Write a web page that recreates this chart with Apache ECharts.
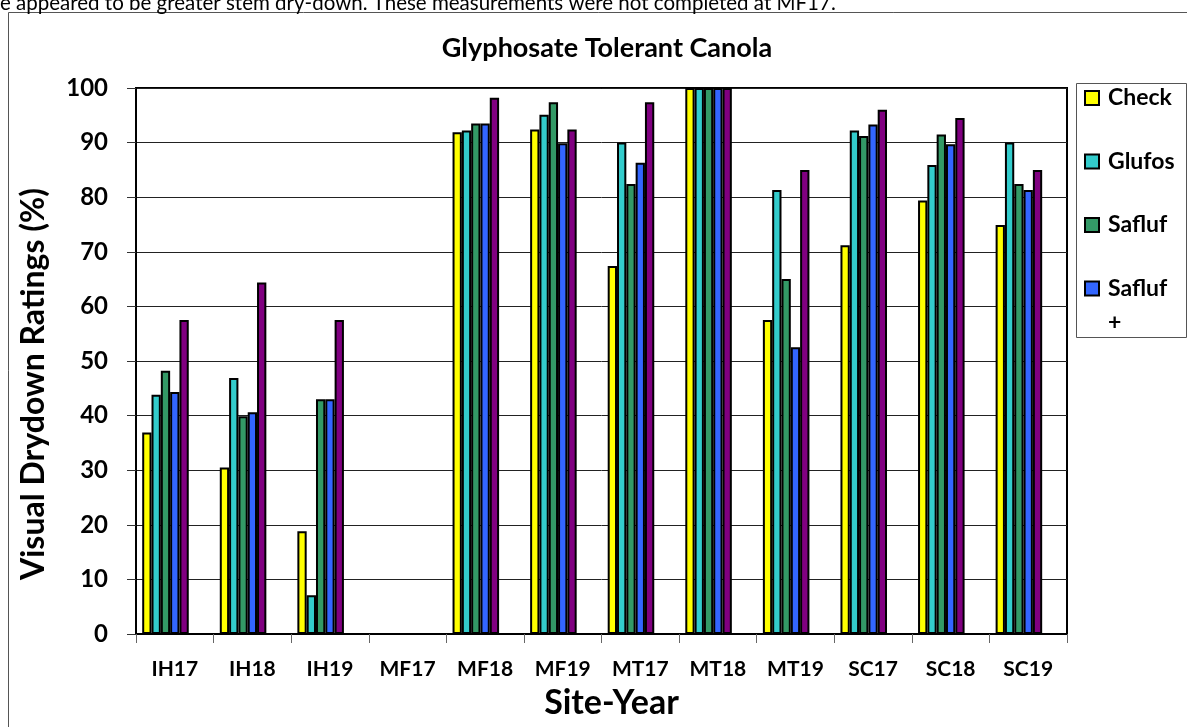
<!DOCTYPE html>
<html>
<head>
<meta charset="utf-8">
<script src="https://cdn.jsdelivr.net/npm/echarts@6/dist/echarts.min.js"></script>
<style>
  html, body { margin: 0; padding: 0; background: #fff; }
  #chart { width: 1187px; height: 727px; }
</style>
</head>
<body>
<div id="chart"></div>
<script>
const categories = ['IH17', 'IH18', 'IH19', 'MF17', 'MF18', 'MF19', 'MT17', 'MT18', 'MT19', 'SC17', 'SC18', 'SC19'];
const check  = [36.9, 30.5, 18.8, null, 91.9, 92.4, 67.4, 100, 57.5, 71.2, 79.4, 74.9];
const glufos = [43.8, 46.9,  7.1, null, 92.2, 95.1, 90.0, 100, 81.3, 92.2, 85.9, 90.0];
const safluf = [48.2, 39.9, 43.0, null, 93.5, 97.4, 82.4, 100, 65.0, 91.2, 91.5, 82.4];
const saflufPlus = [44.3, 40.6, 43.0, null, 93.5, 89.9, 86.3, 100, 52.5, 93.3, 89.7, 81.3];
const fifth  = [57.5, 64.4, 57.5, null, 98.2, 92.4, 97.4, 100, 85.0, 96.0, 94.5, 85.0];
const yTicks = [0, 10, 20, 30, 40, 50, 60, 70, 80, 90, 100];
const seriesNames = ['Check', 'Glufos', 'Safluf', 'Safluf +', 'Series 5'];
const legendNames = ['Check', 'Glufos', 'Safluf', 'Safluf +'];
const colors = ['#FFFF00', '#33CCCC', '#339966', '#3366FF', '#800080'];
const captionText = 'e appeared to be greater stem dry-down. These measurements were not completed at MF17.';
const titleText = 'Glyphosate Tolerant Canola';
const yName = 'Visual Drydown Ratings (%)';
const xName = 'Site-Year';

const FONT = 'Lato, "Open Sans", sans-serif';
const chart = echarts.init(document.getElementById('chart'), null, { renderer: 'canvas' });

const dataSets = [check, glufos, safluf, saflufPlus, fifth];
const series = dataSets.map((d, i) => ({
  name: seriesNames[i],
  type: 'bar',
  data: d,
  barGap: '0%',
  barCategoryGap: '16%',
  itemStyle: { color: colors[i], borderColor: '#000', borderWidth: 2 },
  emphasis: { disabled: true }
}));
// two empty slots so the group sits left in each category, like the source
for (let k = 0; k < 2; k++) {
  series.push({ name: 'pad' + k, type: 'bar', data: categories.map(() => null), barGap: '0%', barCategoryGap: '16%' });
}

const LH = 28;

chart.setOption({
  animation: false,
  color: colors,
  title: {
    text: titleText,
    left: 602, top: 43, textAlign: 'center', textVerticalAlign: 'middle',
    textStyle: { fontFamily: FONT, fontWeight: 'bold', fontSize: 27, color: '#000' }
  },
  legend: {
    data: legendNames,
    orient: 'vertical',
    left: 1084, top: 98 - LH / 2,
    padding: 0,
    itemGap: 63.5 - LH,
    itemWidth: 14, itemHeight: 14,
    icon: 'rect',
    selectedMode: false,
    itemStyle: { borderColor: '#000', borderWidth: 2 },
    // the last name wraps in the source; its second line ("+") is drawn below
    formatter: n => n === 'Safluf +' ? 'Safluf' : n,
    textStyle: { fontFamily: FONT, fontWeight: 'bold', fontSize: 23, lineHeight: LH, color: '#000', padding: [0, 0, 0, 4] }
  },
  grid: { left: 136, right: 120, top: 88, bottom: 93, show: true, borderColor: '#000', borderWidth: 2, backgroundColor: 'transparent' },
  xAxis: {
    type: 'category',
    data: categories,
    name: xName,
    nameLocation: 'middle',
    nameGap: 52,
    nameTextStyle: { fontFamily: FONT, fontWeight: 'bold', fontSize: 34, color: '#000', padding: [0, 0, 0, 20] },
    axisLine: { lineStyle: { color: '#000', width: 2 } },
    axisTick: { show: true, length: 9, lineStyle: { color: '#666', width: 1 } },
    axisLabel: { fontFamily: FONT, fontWeight: 'bold', fontSize: 21, color: '#000', margin: 25 }
  },
  yAxis: {
    type: 'value',
    min: 0, max: 100, interval: 10,
    name: yName,
    nameLocation: 'middle',
    nameGap: 86,
    nameTextStyle: { fontFamily: FONT, fontWeight: 'bold', fontSize: 32, color: '#000', padding: [0, 46, 0, 0] },
    axisLine: { show: true, lineStyle: { color: '#000', width: 2 } },
    axisTick: { show: true, length: 9, lineStyle: { color: '#333', width: 1 } },
    axisLabel: { fontFamily: FONT, fontWeight: 'bold', fontSize: 24, color: '#000', margin: 28,
      formatter: v => yTicks.indexOf(v) >= 0 ? String(v) : '' },
    splitLine: { show: true, lineStyle: { color: '#222', width: 1 } }
  },
  graphic: [
    { type: 'rect', shape: { x: 8.5, y: 12.5, width: 1300, height: 900 }, style: { fill: 'none', stroke: '#555', lineWidth: 1 }, silent: true, z: -10 },
    { type: 'rect', shape: { x: 1076.5, y: 83.5, width: 110, height: 254 }, style: { fill: '#fff', stroke: '#555', lineWidth: 1 }, silent: true, z: -5 },
    { type: 'text', x: 1108, y: 323, style: { text: '+', fontFamily: FONT, fontWeight: 'bold', fontSize: 23, fill: '#000', verticalAlign: 'middle' }, silent: true },
    { type: 'text', left: 0, top: -7, style: { text: captionText, fontFamily: FONT, fontSize: 20.5, fill: '#000' }, silent: true }
  ],
  series: series
});
</script>
</body>
</html>
